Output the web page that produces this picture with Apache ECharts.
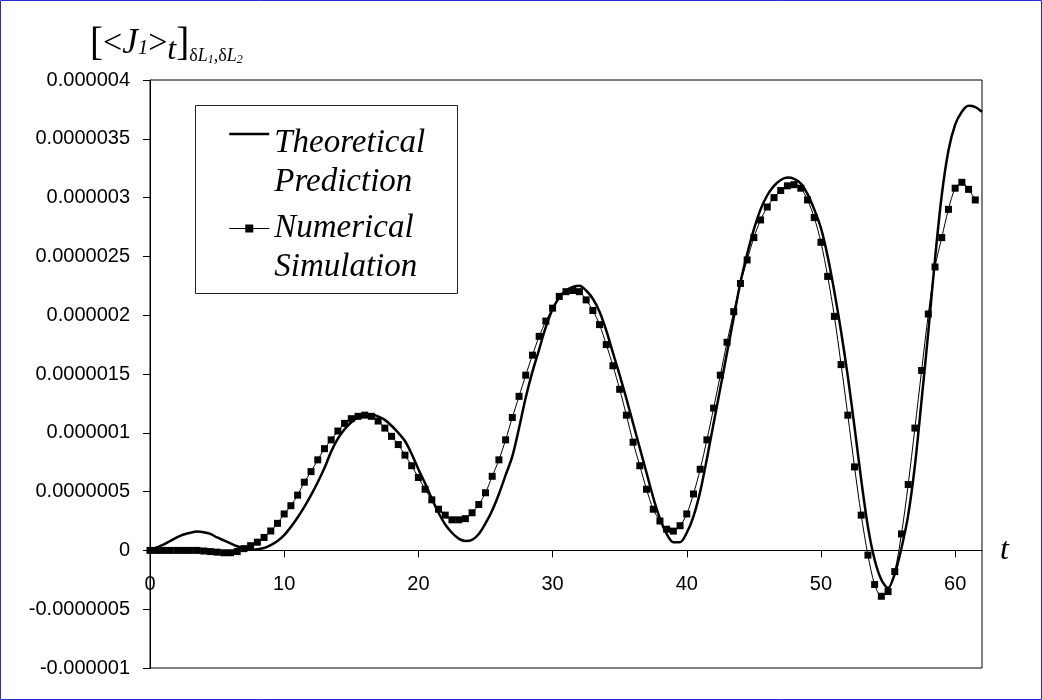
<!DOCTYPE html>
<html>
<head>
<meta charset="utf-8">
<script src="https://cdn.jsdelivr.net/npm/echarts@6/dist/echarts.min.js"></script>
<style>
html,body{margin:0;padding:0;background:#fff;}
#chart{width:1042px;height:700px;}
</style>
</head>
<body>
<div id="chart"></div>
<script>
// time grid (t), same for both series
var tValues = [0,0.5,1,1.5,2,2.5,3,3.5,4,4.5,5,5.5,6,6.5,7,7.5,8,8.5,9,9.5,
	10,10.5,11,11.5,12,12.5,13,13.5,14,14.5,15,15.5,16,16.5,17,17.5,18,18.5,19,19.5,
	20,20.5,21,21.5,22,22.5,23,23.5,24,24.5,25,25.5,26,26.5,27,27.5,28,28.5,29,29.5,
	30,30.5,31,31.5,32,32.5,33,33.5,34,34.5,35,35.5,36,36.5,37,37.5,38,38.5,39,39.5,
	40,40.5,41,41.5,42,42.5,43,43.5,44,44.5,45,45.5,46,46.5,47,47.5,48,48.5,49,49.5,
	50,50.5,51,51.5,52,52.5,53,53.5,54,54.5,55,55.5,56,56.5,57,57.5,58,58.5,59,59.5,
	60,60.5,61,61.5,62];

// values in units of 1e-6
var theoryValues = [0,0.025,0.05,0.08,0.11,0.135,0.15,0.16,0.155,0.14,0.11,0.085,0.06,0.035,0.015,0.005,0.01,0.02,0.045,0.08,
	0.13,0.2,0.28,0.37,0.47,0.58,0.7,0.84,0.95,1.03,1.09,1.13,1.15,1.155,1.14,1.11,1.06,1.0,0.93,0.82,
	0.69,0.57,0.44,0.32,0.22,0.15,0.1,0.08,0.09,0.14,0.23,0.34,0.48,0.64,0.8,1.04,1.3,1.52,1.71,1.9,
	2.05,2.15,2.21,2.24,2.25,2.21,2.14,2.03,1.87,1.68,1.49,1.29,1.08,0.87,0.66,0.45,0.27,0.14,0.07,0.07,
	0.15,0.29,0.5,0.78,1.08,1.38,1.68,1.98,2.28,2.52,2.73,2.9,3.02,3.1,3.15,3.17,3.16,3.12,3.03,2.9,
	2.74,2.5,2.2,1.86,1.48,1.05,0.6,0.2,-0.08,-0.25,-0.32,-0.2,0.02,0.3,0.72,1.28,1.86,2.48,3.02,3.4,
	3.62,3.73,3.78,3.77,3.73];

var simValues = [0,0,0,0,0,0,0,0,-0.005,-0.01,-0.015,-0.02,-0.02,-0.01,0.015,0.04,0.07,0.11,0.165,0.23,
	0.31,0.38,0.47,0.58,0.67,0.77,0.865,0.94,1.015,1.08,1.12,1.14,1.15,1.14,1.1,1.04,0.97,0.9,0.81,0.72,
	0.62,0.52,0.43,0.35,0.3,0.26,0.26,0.27,0.32,0.39,0.49,0.63,0.77,0.94,1.13,1.31,1.49,1.66,1.82,1.95,
	2.06,2.16,2.2,2.21,2.2,2.13,2.04,1.92,1.75,1.57,1.37,1.15,0.92,0.72,0.52,0.35,0.25,0.18,0.164,0.21,
	0.31,0.48,0.69,0.94,1.21,1.49,1.77,2.03,2.27,2.47,2.66,2.81,2.92,3.0,3.06,3.1,3.11,3.08,2.98,2.83,
	2.62,2.33,1.99,1.58,1.15,0.71,0.3,-0.04,-0.29,-0.39,-0.35,-0.18,0.14,0.56,1.04,1.53,2.01,2.41,2.66,2.9,
	3.08,3.13,3.07,2.98];

var yTicks = [-1,-0.5,0,0.5,1,1.5,2,2.5,3,3.5,4];
var yTickLabels = ['-0.000001','-0.0000005','0','0.0000005','0.000001','0.0000015',
	'0.000002','0.0000025','0.000003','0.0000035','0.000004'];
var legendNames = ['Theoretical Prediction','Numerical Simulation'];

function pairs(xs,ys){
	var a = [];
	for(var i=0;i<ys.length;i++){
		a.push([xs[i],ys[i]]);
	}
	return a;
}

var serif = 'Liberation Serif, Times New Roman, serif';
var sans = 'Liberation Sans, Arial, sans-serif';

function tok(size,italic,pad){
	return {fontFamily:serif, fontStyle:italic?'italic':'normal', fontWeight:'normal',
		fontSize:size, lineHeight:size, color:'#000', verticalAlign:'bottom', padding:[0,0,pad,0]};
}

var gridH = 700-80-32;

var option = {
	animation:false,
	backgroundColor:'#fff',
	title:{
		left:90, top:28, padding:0,
		text:'{br|[}{op|<}{j|J}{one|1}{op|>}{t|t}{br|]}{d|δ}{l|L}{n|1}{d|,δ}{l|L}{n|2}',
		textStyle:{
			fontWeight:'normal',
			rich:{
				br:tok(39,false,3),
				op:tok(34,false,6),
				j:tok(35,true,6),
				one:tok(21,true,8),
				t:tok(32,true,0),
				d:tok(18,false,2),
				l:tok(18,true,2),
				n:tok(12,true,1)
			}
		}
	},
	grid:{
		left:150, top:80, right:60, bottom:32,
		show:true, borderColor:'#000', borderWidth:1, backgroundColor:'#fff'
	},
	legend:{
		orient:'vertical', left:228, top:90, padding:0, z:6,
		itemWidth:40, itemHeight:10, itemGap:-14,
		data:[
			{name:legendNames[0], itemStyle:{color:'rgba(0,0,0,0)', borderColor:'rgba(0,0,0,0)', opacity:0}, lineStyle:{width:2.5, color:'#000'}},
			{name:legendNames[1], lineStyle:{width:1, color:'#000'}}
		],
		formatter:function(name){
			var w = name.split(' ');
			return (name === legendNames[0] ? '{s1| }' : '{s2| }') + '\n{a|' + w[0] + '}\n{a|' + w[1] + '}';
		},
		textStyle:{
			color:'#000',
			rich:{
				s1:{fontSize:10, lineHeight:57},
				s2:{fontSize:10, lineHeight:39},
				a:{fontFamily:serif, fontStyle:'italic', fontSize:33, lineHeight:39, color:'#000'}
			}
		}
	},
	xAxis:{
		type:'value', min:0, max:62, interval:10,
		offset:-gridH/5,
		name:'t', nameLocation:'end', nameGap:18,
		nameTextStyle:{fontFamily:serif, fontStyle:'italic', fontSize:32, color:'#000'},
		axisLine:{onZero:false, lineStyle:{color:'#000', width:1}},
		axisTick:{show:true, length:7, lineStyle:{color:'#000'}},
		axisLabel:{color:'#000', fontFamily:sans, fontSize:20, margin:24, showMaxLabel:false},
		splitLine:{show:false}
	},
	yAxis:{
		type:'value', min:-1, max:4, interval:0.5,
		axisLine:{show:true, onZero:false, lineStyle:{color:'#000', width:1}},
		axisTick:{show:true, length:7, lineStyle:{color:'#000'}},
		axisLabel:{color:'#000', fontFamily:sans, fontSize:20, margin:20,
			formatter:function(v){ return yTickLabels[yTicks.indexOf(Math.round(v*2)/2)]; }},
		splitLine:{show:false}
	},
	graphic:[
		{type:'rect', z:-1, shape:{x:0.5, y:0.5, width:1041, height:699}, style:{fill:null, stroke:'#2a2ad8', lineWidth:1}},
		{type:'rect', z:1, shape:{x:195.5, y:105.5, width:262, height:188}, style:{fill:'#fff', stroke:'#222', lineWidth:1}}
	],
	series:[
		{
			name:legendNames[0], type:'line', data:pairs(tValues,theoryValues),
			showSymbol:false, symbol:'none', smooth:0.3, z:3,
			lineStyle:{color:'#000', width:2.5}, itemStyle:{color:'#000'}
		},
		{
			name:legendNames[1], type:'line', data:pairs(tValues,simValues),
			symbol:'rect', symbolSize:7, showAllSymbol:true, smooth:0.3, z:4,
			lineStyle:{color:'#000', width:1}, itemStyle:{color:'#000'}
		}
	]
};

var myChart = echarts.init(document.getElementById('chart'));
myChart.setOption(option);
</script>
</body>
</html>
